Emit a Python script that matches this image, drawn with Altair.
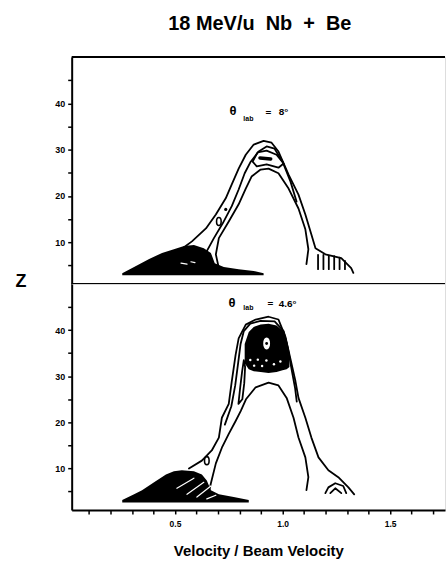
import altair as alt
import pandas as pd

FONT = "Liberation Sans"

# ---------------- texts ----------------
TITLE_TEXT = "18\u00a0MeV/u\u00a0\u00a0Nb\u00a0\u00a0+\u00a0\u00a0Be"
Y_TITLE = "Z"
X_TITLE = "Velocity / Beam Velocity"
THETA = "θ"
THETA_SUB = "lab"
EQ = "="
ANGLE_TOP = "8°"
ANGLE_BOTTOM = "4.6°"

# ---------------- axes ----------------
X_DOMAIN = [0.02, 1.755]
Z_DOMAIN = [1, 50]
X_TICKS = [0.1, 0.2, 0.3, 0.4, 0.5, 0.6, 0.7, 0.8, 0.9, 1.0, 1.1, 1.2, 1.3, 1.4, 1.5, 1.6, 1.7]
X_LABELED = [0.5, 1.0, 1.5]
Z_TICKS = [5, 10, 15, 20, 25, 30, 35, 40, 45]
Z_LABELED = [10, 20, 30, 40]

# ---------------- top panel (theta_lab = 8 deg) ----------------
TOP_BLOB_X = [0.255, 0.310, 0.380, 0.440, 0.495, 0.542, 0.588, 0.634, 0.667, 0.685, 0.727, 0.796, 0.866, 0.912]
TOP_BLOB_Z = [3.3, 4.65, 6.4, 7.7, 8.5, 9.2, 9.4, 8.7, 7.7, 5.5, 4.65, 4.2, 3.8, 3.3]
TOP_BLOB_BASE = 2.9

TOP_OUTER = [(0.542, 8.95), (0.579, 10.2), (0.644, 13.0), (0.690, 16.0), (0.736, 19.5), (0.764, 22.5),
             (0.796, 25.9), (0.829, 28.9), (0.866, 31.1), (0.912, 31.9), (0.949, 31.5), (0.981, 29.6),
             (1.028, 24.6), (1.074, 20.3), (1.106, 16.0), (1.134, 11.7), (1.153, 8.7), (1.199, 7.4),
             (1.273, 6.6), (1.319, 4.4), (1.329, 3.4)]
TOP_MID = [(0.634, 5.5), (0.648, 8.1), (0.681, 10.9), (0.722, 14.1), (0.764, 17.8), (0.796, 21.4),
           (0.824, 24.9), (0.852, 27.4), (0.889, 29.6), (0.926, 30.7), (0.963, 30.2), (1.000, 27.4),
           (1.037, 23.1), (1.065, 18.8)]
TOP_INNER = [(0.704, 4.4), (0.690, 7.4), (0.704, 10.9), (0.750, 14.5), (0.796, 18.2), (0.829, 21.6),
             (0.856, 24.2), (0.898, 25.7), (0.935, 25.9), (0.981, 24.9), (1.028, 21.6), (1.074, 17.3),
             (1.106, 12.8), (1.120, 8.5), (1.111, 5.3)]
TOP_PEAK_LOOP = [(0.861, 27.4), (0.884, 29.4), (0.926, 29.8), (0.972, 28.9), (1.005, 27.0), (0.981, 26.1),
                 (0.926, 26.8), (0.880, 26.4), (0.861, 27.4)]
TOP_CORE = [(0.895, 28.2), (0.945, 28.0)]
TOP_FRINGE_X = [1.165, 1.19, 1.215, 1.24, 1.265, 1.29]
TOP_FRINGE_Z_TOP = [7.3, 7.3, 7.1, 7.0, 6.7, 6.0]
TOP_FRINGE_Z_BOTTOM = 4.2
TOP_LOOPS = [(0.704, 14.5)]
TOP_DOTS = [(0.736, 17.1)]
TOP_WHITE = [[(0.528, 5.5), (0.556, 5.3)], [(0.574, 5.8), (0.593, 5.6)]]

# ---------------- bottom panel (theta_lab = 4.6 deg) ----------------
BOT_BLOB_X = [0.255, 0.310, 0.347, 0.403, 0.458, 0.495, 0.532, 0.588, 0.625, 0.648, 0.667, 0.704, 0.773, 0.843]
BOT_BLOB_Z = [3.15, 4.4, 5.3, 7.0, 8.7, 9.4, 9.6, 9.4, 8.7, 7.4, 5.3, 4.4, 3.8, 3.15]
BOT_BLOB_BASE = 2.6

BOT_PEAK_X = [0.824, 0.843, 0.866, 0.898, 0.935, 0.972, 1.000, 1.019, 1.032]
BOT_PEAK_TOP = [37.0, 39.6, 40.7, 41.2, 41.4, 41.0, 39.9, 38.0, 35.0]
BOT_PEAK_BOTTOM = [32.8, 31.5, 31.1, 30.9, 30.7, 30.9, 31.3, 31.5, 32.0]

BOT_OUTER = [(0.565, 10.0), (0.625, 11.7), (0.671, 13.9), (0.704, 16.7), (0.718, 21.0), (0.750, 24.0),
             (0.764, 28.9), (0.782, 34.7), (0.796, 38.2), (0.829, 41.2), (0.875, 42.3), (0.935, 42.9),
             (0.981, 42.3), (1.013, 38.6), (1.037, 33.7), (1.060, 28.9), (1.074, 25.3), (1.106, 21.0),
             (1.134, 16.7), (1.167, 12.4), (1.213, 9.6), (1.259, 8.1), (1.306, 5.9), (1.333, 4.4)]
BOT_MID = [(0.732, 19.5), (0.762, 23.5), (0.780, 28.0), (0.794, 33.0), (0.805, 37.0), (0.820, 39.8),
           (0.850, 41.4), (0.898, 42.0), (0.963, 41.9), (1.005, 39.8), (1.025, 36.0), (1.042, 31.5),
           (1.058, 27.5), (1.066, 24.5)]
BOT_INNER = [(0.657, 4.65), (0.667, 6.8), (0.690, 11.1), (0.718, 14.5), (0.750, 17.5), (0.782, 20.3),
             (0.806, 22.5), (0.830, 25.0), (0.875, 27.6), (0.935, 28.6), (0.981, 28.0), (1.019, 25.3),
             (1.051, 21.0), (1.074, 16.7), (1.106, 12.4), (1.120, 8.1), (1.111, 5.3)]
BOT_LEG_LOOP = [(0.795, 24.0), (0.803, 27.5), (0.812, 31.0), (0.820, 33.5), (0.826, 32.0), (0.822, 28.5),
                (0.813, 25.0), (0.795, 24.0)]
BOT_FOOT_OUTER = [(1.199, 4.65), (1.213, 5.9), (1.245, 6.8), (1.282, 6.2), (1.296, 4.65)]
BOT_FOOT_INNER = [(1.222, 4.65), (1.245, 5.7), (1.273, 4.65)]
BOT_LOOPS = [(0.648, 11.7)]
BOT_HOLES = [(0.926, 37.1)]
BOT_SPECKS = [(0.85, 33.5), (0.868, 32.3), (0.885, 33.6), (0.905, 32.2), (0.925, 33.4), (0.96, 32.6), (0.99, 33.2)]
BOT_WHITE = [[(0.509, 5.7), (0.588, 7.9)], [(0.556, 4.4), (0.634, 7.0)], [(0.602, 3.8), (0.667, 6.2)],
             [(0.648, 3.4), (0.690, 4.2)]]

# ---------------- layout ----------------
W = 375
H_TOP = 228
H_BOT = 227
OVAL = "M0,-1 C0.77,-1 0.77,1 0,1 C-0.77,1 -0.77,-1 0,-1 Z"

xs = alt.Scale(domain=X_DOMAIN, nice=False, zero=False)
ys = alt.Scale(domain=Z_DOMAIN, nice=False, zero=False)

axis_common = dict(grid=False, domainColor="black", domainWidth=2, tickColor="black", tickWidth=1.5,
                   tickSize=4, labelFont=FONT, labelFontWeight="bold", labelColor="black",
                   labelOverlap=False, labelFlush=False)

y_axis = alt.Axis(values=Z_TICKS, title=None, labelFontSize=9, labelPadding=3,
                  labelExpr="indexof(%s, datum.value) >= 0 ? datum.value : ''" % str(Z_LABELED),
                  **axis_common)
x_axis_bottom = alt.Axis(values=X_TICKS, title=X_TITLE, titleFont=FONT, titleFontSize=15,
                         titleFontWeight="bold", titleColor="black", titlePadding=15,
                         labelFontSize=8.5, labelPadding=6,
                         labelExpr="indexof(%s, datum.value) >= 0 ? format(datum.value, '.1f') : ''" % str(X_LABELED),
                         **axis_common)


def lines_df(named):
    rows = []
    for name, pts in named.items():
        for i, (x, z) in enumerate(pts):
            rows.append({"c": name, "i": i, "x": x, "z": z})
    return pd.DataFrame(rows)


def pts_df(pts):
    return pd.DataFrame({"x": [p[0] for p in pts], "z": [p[1] for p in pts]})


def text_layer(txt, x, y, size, align="center", baseline="middle"):
    return alt.Chart(pd.DataFrame({"t": [txt]})).mark_text(
        font=FONT, fontSize=size, fontWeight="bold", color="#000000", fill="#000000",
        align=align, baseline=baseline
    ).encode(text="t:N", x=alt.value(x), y=alt.value(y))


def panel(blobs, contours, thick, whites, loops, dots, holes, specks, x_axis):
    X = alt.X("x:Q", scale=xs, axis=x_axis)
    Y = alt.Y("z:Q", scale=ys, axis=y_axis)
    layers = []
    for bx, bz, bbase in blobs:
        df = pd.DataFrame({"x": bx, "z": bz, "z2": bbase})
        layers.append(alt.Chart(df).mark_area(color="black", orient="vertical")
                      .encode(x=X, y=Y, y2="z2:Q"))
    layers.append(alt.Chart(lines_df(contours)).mark_line(
        color="black", strokeWidth=1.8, strokeJoin="round", strokeCap="round")
        .encode(x=X, y=Y, detail="c:N", order="i:Q"))
    if thick:
        layers.append(alt.Chart(lines_df(thick)).mark_line(
            color="black", strokeWidth=3.5, strokeCap="round")
            .encode(x=X, y=Y, detail="c:N", order="i:Q"))
    if whites:
        layers.append(alt.Chart(lines_df(whites)).mark_line(
            color="white", strokeWidth=1.2, strokeCap="round")
            .encode(x=X, y=Y, detail="c:N", order="i:Q"))
    if loops:
        layers.append(alt.Chart(pts_df(loops)).mark_point(
            shape=OVAL, filled=False, color="black", strokeWidth=1.6, size=64, opacity=1)
            .encode(x=X, y=Y))
    if dots:
        layers.append(alt.Chart(pts_df(dots)).mark_point(
            shape="circle", filled=True, color="black", size=10, opacity=1).encode(x=X, y=Y))
    if holes:
        layers.append(alt.Chart(pts_df(holes)).mark_point(
            shape=OVAL, filled=True, color="white", size=144, opacity=1).encode(x=X, y=Y))
        layers.append(alt.Chart(pts_df(holes)).mark_point(
            shape="circle", filled=True, color="black", size=8, opacity=1).encode(x=X, y=Y))
    if specks:
        layers.append(alt.Chart(pts_df(specks)).mark_point(
            shape="circle", filled=True, color="white", size=6, opacity=1).encode(x=X, y=Y))
    return layers


# top panel
top_contours = {"outer": TOP_OUTER, "mid": TOP_MID, "inner": TOP_INNER, "peak": TOP_PEAK_LOOP}
for k, (fx, fz) in enumerate(zip(TOP_FRINGE_X, TOP_FRINGE_Z_TOP)):
    top_contours["fringe%d" % k] = [(fx, fz), (fx, TOP_FRINGE_Z_BOTTOM)]
top_layers = panel(
    blobs=[(TOP_BLOB_X, TOP_BLOB_Z, [TOP_BLOB_BASE] * len(TOP_BLOB_X))],
    contours=top_contours,
    thick={"core": TOP_CORE},
    whites={"w%d" % i: seg for i, seg in enumerate(TOP_WHITE)},
    loops=TOP_LOOPS, dots=TOP_DOTS, holes=None, specks=None,
    x_axis=None)
frame_df = pd.DataFrame({"k": [0]})
top_layers += [
    alt.Chart(frame_df).mark_rule(color="black", strokeWidth=2).encode(
        x=alt.value(0), x2=alt.value(W), y=alt.value(0)),
    alt.Chart(frame_df).mark_rule(color="black", strokeWidth=2).encode(
        x=alt.value(0), x2=alt.value(W), y=alt.value(H_TOP)),
    text_layer(TITLE_TEXT, 189, -33, 20),
    text_layer(Y_TITLE, -51, 226.5, 18),
    text_layer(THETA, 162, 54, 13),
    text_layer(THETA_SUB, 177.5, 62, 7),
    text_layer(EQ, 197.5, 56, 10),
    text_layer(ANGLE_TOP, 208, 55.5, 10, align="left"),
]
top = alt.layer(*top_layers).properties(width=W, height=H_TOP)

# bottom panel
bot_layers = panel(
    blobs=[(BOT_BLOB_X, BOT_BLOB_Z, [BOT_BLOB_BASE] * len(BOT_BLOB_X)),
           (BOT_PEAK_X, BOT_PEAK_TOP, BOT_PEAK_BOTTOM)],
    contours={"outer": BOT_OUTER, "mid": BOT_MID, "inner": BOT_INNER, "leg": BOT_LEG_LOOP,
              "foot_o": BOT_FOOT_OUTER, "foot_i": BOT_FOOT_INNER},
    thick=None,
    whites={"w%d" % i: seg for i, seg in enumerate(BOT_WHITE)},
    loops=BOT_LOOPS, dots=None, holes=BOT_HOLES, specks=BOT_SPECKS,
    x_axis=x_axis_bottom)
bot_layers += [
    text_layer(THETA, 161, 19, 13),
    text_layer(THETA_SUB, 177.5, 24.5, 7),
    text_layer(EQ, 199.5, 20, 10),
    text_layer(ANGLE_BOTTOM, 208, 20, 10, align="left"),
]
bottom = alt.layer(*bot_layers).properties(width=W, height=H_BOT)

chart = alt.vconcat(top, bottom, spacing=0, bounds="flush").properties(
    padding={"left": 15, "top": 12, "right": 0, "bottom": 5}
).configure_view(stroke=None).configure(background="white")

chart.save("out.html", embed_options={"renderer": "svg", "actions": False})
